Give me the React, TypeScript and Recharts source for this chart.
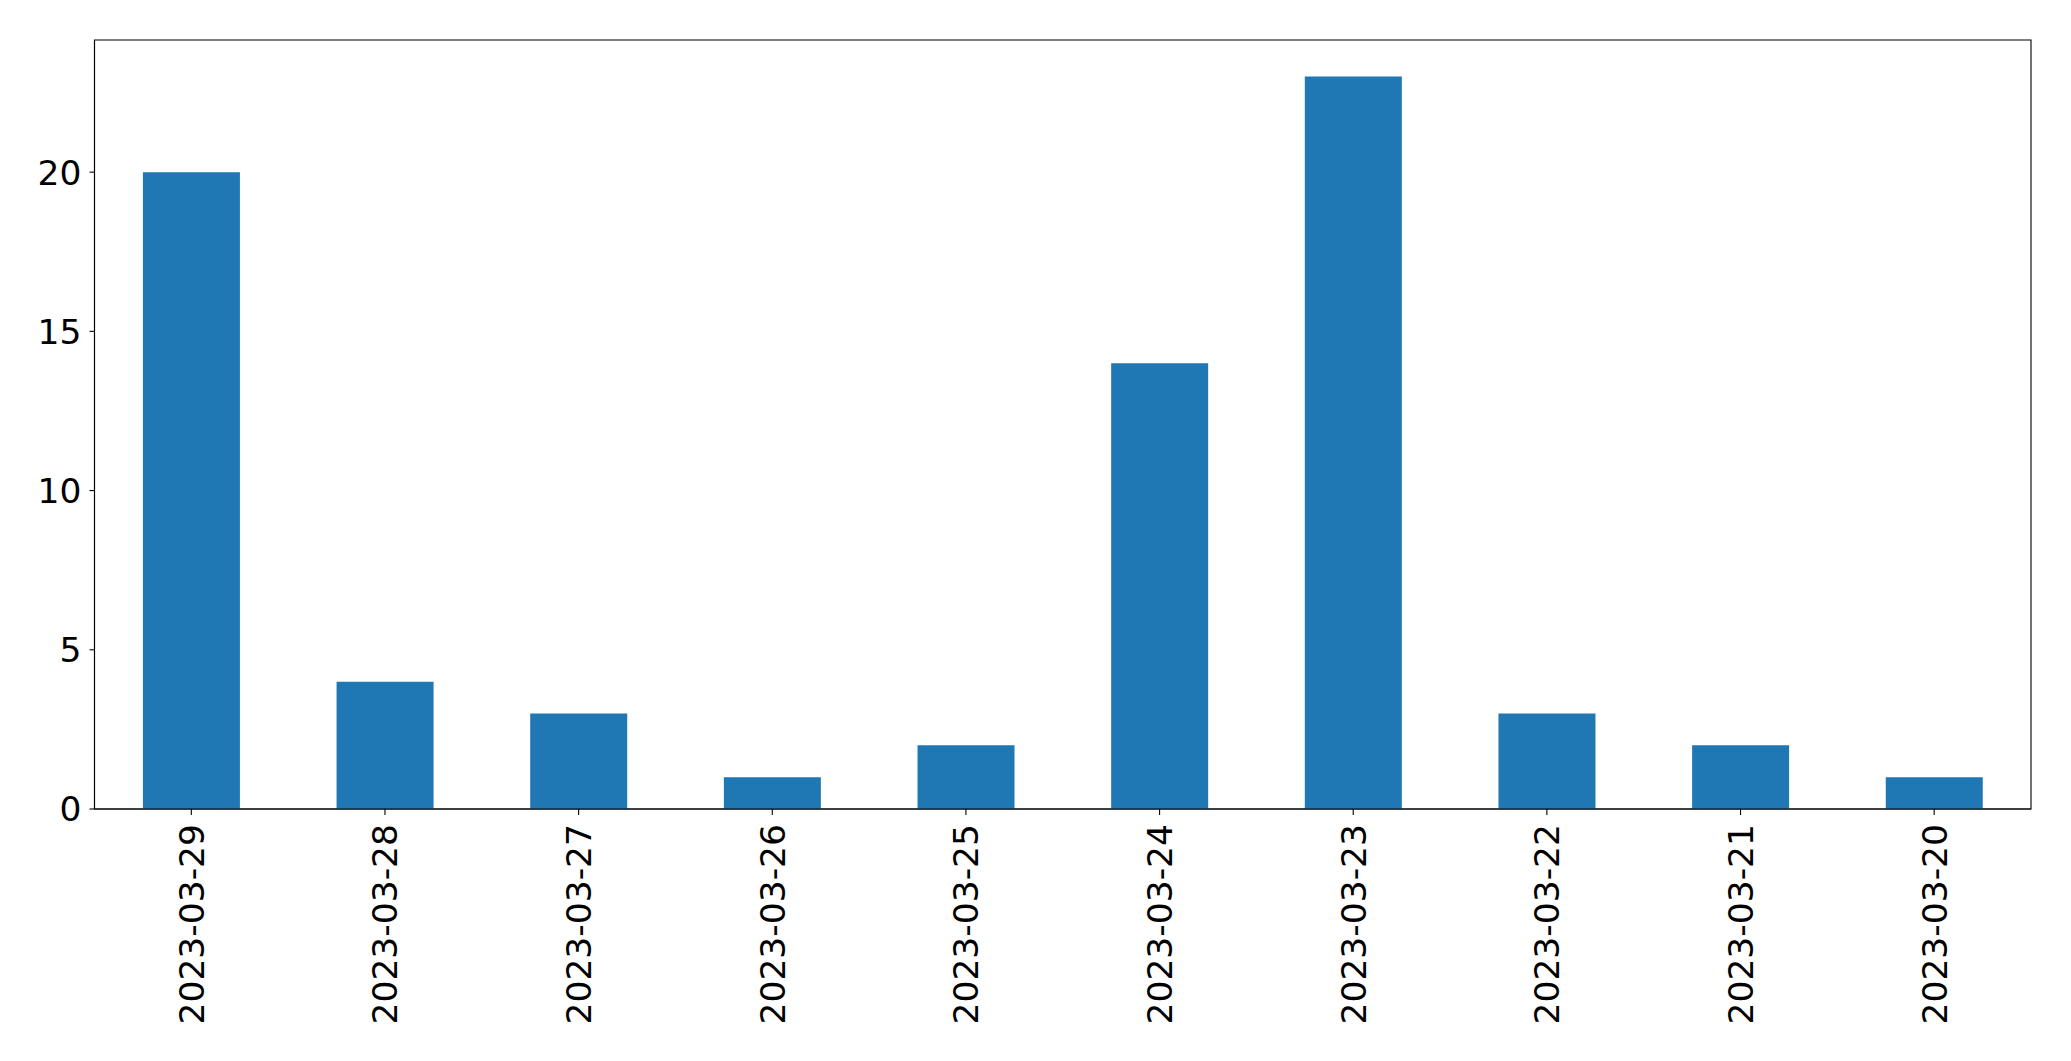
import { Bar, BarChart, ReferenceArea, XAxis, YAxis } from "recharts";

const dates = [
  "2023-03-29",
  "2023-03-28",
  "2023-03-27",
  "2023-03-26",
  "2023-03-25",
  "2023-03-24",
  "2023-03-23",
  "2023-03-22",
  "2023-03-21",
  "2023-03-20",
];
const counts = [20, 4, 3, 1, 2, 14, 23, 3, 2, 1];
const yTicks = [0, 5, 10, 15, 20];
const yMax = 24.15;

const data = dates.map((date, i) => ({ date, count: counts[i] }));

const FONT = "'DejaVu Sans', sans-serif";
const FONT_SIZE = 34.5;

const DateTick = (props: any) => {
  const { x, y, payload } = props;
  return (
    <g transform={`translate(${x},${y})`}>
      <text
        x={0}
        y={0}
        dy="0.36em"
        transform="rotate(-90)"
        textAnchor="end"
        fontSize={FONT_SIZE}
        fontFamily={FONT}
        fill="#000"
      >
        {payload.value}
      </text>
    </g>
  );
};

const CountTick = (props: any) => {
  const { x, y, payload } = props;
  return (
    <text
      x={x}
      y={y}
      dy="0.36em"
      textAnchor="end"
      fontSize={FONT_SIZE}
      fontFamily={FONT}
      fill="#000"
    >
      {payload.value}
    </text>
  );
};

export default function App() {
  return (
    <div style={{ width: 2071, height: 1061, background: "#fff" }}>
      <style>{`body{margin:0}`}</style>
      <BarChart
        width={2071}
        height={1061}
        data={data}
        margin={{ top: 40, right: 40, left: 0, bottom: 0 }}
        barCategoryGap="25%"
      >
        <XAxis
          dataKey="date"
          height={252}
          interval={0}
          tick={<DateTick />}
          tickSize={6}
          tickMargin={9}
          stroke="#000"
          axisLine={{ stroke: "#000", strokeWidth: 1.1 }}
          tickLine={{ stroke: "#000", strokeWidth: 1.1 }}
        />
        <YAxis
          width={94.5}
          domain={[0, yMax]}
          ticks={yTicks}
          tickSize={5}
          tickMargin={8}
          tick={<CountTick />}
          stroke="#000"
          axisLine={{ stroke: "#000", strokeWidth: 1.1 }}
          tickLine={{ stroke: "#000", strokeWidth: 1.1 }}
        />
        <Bar dataKey="count" fill="#1f77b4" isAnimationActive={false} />
        <ReferenceArea
          y1={0}
          y2={yMax}
          fill="none"
          fillOpacity={0}
          stroke="#000"
          strokeWidth={1.1}
          ifOverflow="visible"
        />
      </BarChart>
    </div>
  );
}
